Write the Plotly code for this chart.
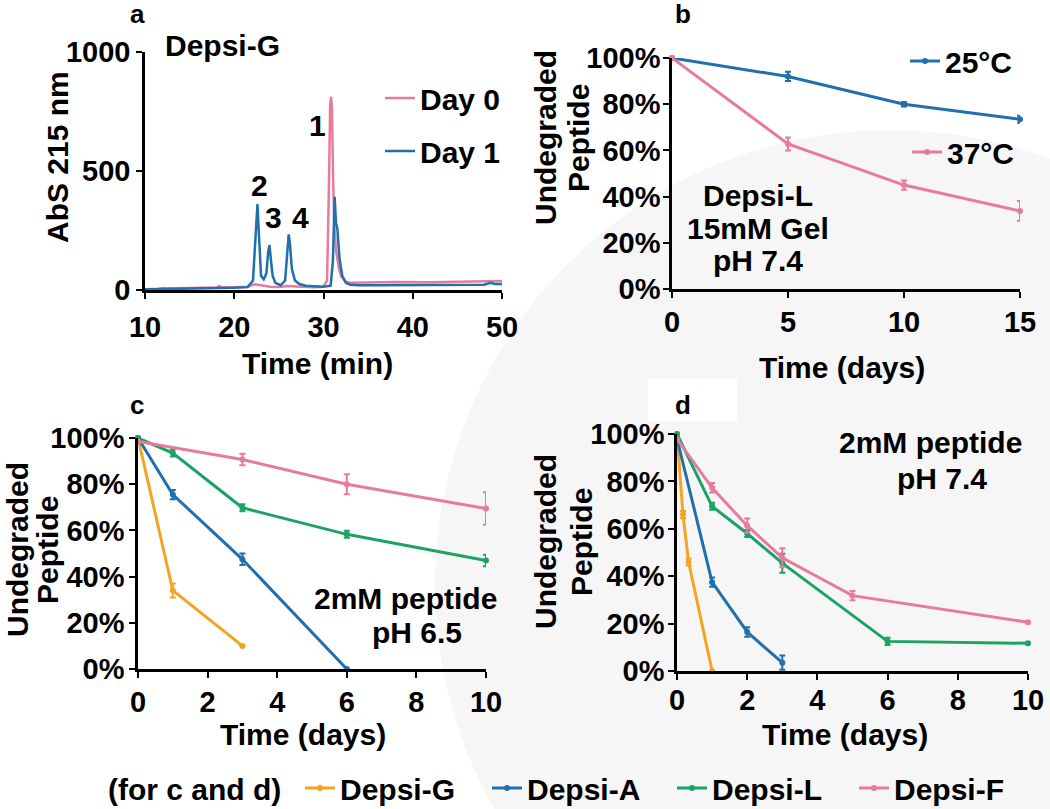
import plotly.graph_objects as go

W, H = 1050, 809

# ---------------- data ----------------
# panel a: HPLC traces of Depsi-G
day0_time = [10, 11.5, 12, 12.3, 15, 18, 18.3, 18.6, 20, 21.5, 22.3, 22.7, 23.2, 24, 25, 26, 27, 28, 29, 30,
             30.4, 30.6, 30.75, 30.85, 30.95, 31.05, 31.2, 31.4, 31.7, 32.0, 32.5, 33, 34, 35, 38, 40, 42, 45, 48, 50]
day0_abs = [3, 4, 8, 6, 8, 10, 16, 12, 12, 14, 24, 22, 18, 14, 13, 17, 15, 12, 12, 14,
            40, 420, 780, 812, 760, 520, 280, 170, 95, 55, 35, 30, 32, 32, 34, 33, 33, 35, 38, 38]
day1_time = [10, 12, 15, 18, 20, 21.5, 22.1, 22.35, 22.5, 22.6, 22.7, 22.85, 23.0, 23.3, 23.6, 23.8, 23.95,
             24.1, 24.3, 24.6, 25.2, 25.7, 25.95, 26.1, 26.25, 26.45, 26.8, 27.3, 28, 29, 30, 30.8, 31.05,
             31.25, 31.4, 31.55, 31.8, 32.1, 32.5, 33, 34, 36, 40, 44, 46, 48, 48.7, 49.2, 50]
day1_abs = [3, 4, 6, 8, 9, 12, 40, 200, 330, 361, 280, 150, 60, 45, 70, 160, 189,
            130, 60, 30, 20, 40, 170, 234, 190, 90, 40, 25, 18, 15, 14, 18, 120,
            392, 280, 260, 130, 60, 30, 22, 20, 20, 20, 20, 22, 22, 30, 25, 25]
peak_labels = ["1", "2", "3", "4"]
peak_x = [29.3, 22.8, 24.35, 27.4]
peak_y = [693, 441, 303, 303]
a_xticks = [10, 20, 30, 40, 50]
a_yticks = [0, 500, 1000]

# panel b: Depsi-L 15mM gel, pH 7.4
b_days = [0, 5, 10, 15]
b_25 = [100, 92, 80, 73.5]
b_25_err = [0, 2, 1, 1.5]
b_37 = [100, 62.8, 45, 33.8]
b_37_err = [0, 2.8, 2, 4.3]
b_xticks = [0, 5, 10, 15]

# panel c: 2mM peptide, pH 6.5
c_G_days = [0, 1, 3]
c_G = [100, 34, 10]
c_G_err = [0, 3, 0]
c_A_days = [0, 1, 3, 6]
c_A = [100, 75.5, 47.5, 0]
c_A_err = [0, 2, 2.5, 0]
c_L_days = [0, 1, 3, 6, 10]
c_L = [100, 93.5, 69.8, 58.3, 47]
c_L_err = [0, 1.5, 1.5, 1.5, 2.5]
c_F_days = [0, 3, 6, 10]
c_F = [98.5, 90.7, 80, 69.5]
c_F_err = [0, 2.5, 4.3, 7]

# panel d: 2mM peptide, pH 7.4
d_G_days = [0, 0.17, 0.33, 1]
d_G = [100, 66, 46, 0]
d_G_err = [0, 1.5, 1.5, 0]
d_A_days = [0, 1, 2, 3]
d_A = [98, 37.5, 16.5, 3.5]
d_A_err = [0, 2, 2, 3]
d_L_days = [0, 1, 2, 3, 6, 10]
d_L = [100, 69.5, 58, 45.5, 12.5, 11.7]
d_L_err = [0, 1.5, 1.5, 4, 1.5, 0.5]
d_F_days = [0, 1, 2, 3, 5, 10]
d_F = [97.8, 77.3, 61.3, 47.8, 31.8, 20.6]
d_F_err = [0, 2, 3, 4, 2, 0.5]
cd_xticks = [0, 2, 4, 6, 8, 10]

pct_vals = [0, 20, 40, 60, 80, 100]
pct_text = ["0%", "20%", "40%", "60%", "80%", "100%"]
series_names = ["Depsi-G", "Depsi-A", "Depsi-L", "Depsi-F"]

# ---------------- style ----------------
PINK = "#E77B9E"
BLUE = "#1F70AC"
GREEN = "#1CA363"
ORANGE = "#F4A325"
series_colors = [ORANGE, BLUE, GREEN, PINK]
FONT = "Liberation Sans, Arial, sans-serif"
TICK = dict(family=FONT, size=29, color="black", weight="bold")
TXT = dict(family=FONT, size=30, color="black", weight="bold")


def px(x):
    return x / W


def py(y):
    return 1 - y / H


fig = go.Figure()


def add_series(x, y, err, color, xa, ya, name, legend=None, show=False, width=3):
    fig.add_trace(go.Scatter(
        x=x, y=y, mode="lines+markers", name=name,
        line=dict(color=color, width=width),
        marker=dict(color=color, size=6),
        error_y=dict(type="data", array=err, visible=True, color=color, thickness=2, width=3),
        xaxis=xa, yaxis=ya, showlegend=show, legend=legend, cliponaxis=False,
    ))


# panel a traces
fig.add_trace(go.Scatter(x=day0_time, y=day0_abs, mode="lines", name="Day 0",
                         line=dict(color=PINK, width=2.5), xaxis="x", yaxis="y",
                         legend="legend", showlegend=True))
fig.add_trace(go.Scatter(x=day1_time, y=day1_abs, mode="lines", name="Day 1",
                         line=dict(color=BLUE, width=2.5), xaxis="x", yaxis="y",
                         legend="legend2", showlegend=True))

# panel b
add_series(b_days, b_25, b_25_err, BLUE, "x2", "y2", "25°C", "legend3", True)
add_series(b_days, b_37, b_37_err, PINK, "x2", "y2", "37°C", "legend4", True)

# panel c
c_sets = [(c_G_days, c_G, c_G_err), (c_A_days, c_A, c_A_err), (c_L_days, c_L, c_L_err), (c_F_days, c_F, c_F_err)]
for i, (xx, yy, ee) in enumerate(c_sets):
    add_series(xx, yy, ee, series_colors[i], "x3", "y3", series_names[i], "legend%d" % (5 + i), True)

# panel d
d_sets = [(d_G_days, d_G, d_G_err), (d_A_days, d_A, d_A_err), (d_L_days, d_L, d_L_err), (d_F_days, d_F, d_F_err)]
for i, (xx, yy, ee) in enumerate(d_sets):
    add_series(xx, yy, ee, series_colors[i], "x4", "y4", series_names[i])

AX = dict(showline=True, linecolor="black", linewidth=2.5, ticks="outside", ticklen=6, tickwidth=2,
          tickcolor="black", showgrid=False, zeroline=False, tickfont=TICK, fixedrange=True,
          automargin=False, tickmode="array")

layout = dict(
    width=W, height=H, margin=dict(l=0, r=0, t=0, b=0, pad=0, autoexpand=False),
    paper_bgcolor="white", plot_bgcolor="rgba(0,0,0,0)",
    xaxis=dict(AX, domain=[px(145), px(502)], range=[10, 50], tickvals=a_xticks,
               ticktext=[str(v) for v in a_xticks], anchor="y", ticklabelstandoff=3),
    yaxis=dict(AX, domain=[py(290), py(52)], range=[0, 1000], tickvals=a_yticks,
               ticktext=[str(v) for v in a_yticks], anchor="x", ticklabelstandoff=0),
    xaxis2=dict(AX, domain=[px(672), px(1020)], range=[0, 15], tickvals=b_xticks,
                ticktext=[str(v) for v in b_xticks], anchor="y2", ticklabelstandoff=-1),
    yaxis2=dict(AX, domain=[py(289), py(58)], range=[0, 100], tickvals=pct_vals, ticktext=pct_text,
                anchor="x2", ticklabelstandoff=-3),
    xaxis3=dict(AX, domain=[px(138), px(486)], range=[0, 10], tickvals=cd_xticks,
                ticktext=[str(v) for v in cd_xticks], anchor="y3", ticklabelstandoff=-1),
    yaxis3=dict(AX, domain=[py(669), py(438)], range=[0, 100], tickvals=pct_vals, ticktext=pct_text,
                anchor="x3", ticklabelstandoff=-1),
    xaxis4=dict(AX, domain=[px(677), px(1028)], range=[0, 10], tickvals=cd_xticks,
                ticktext=[str(v) for v in cd_xticks], anchor="y4", ticklabelstandoff=-5),
    yaxis4=dict(AX, domain=[py(671), py(434)], range=[0, 100], tickvals=pct_vals, ticktext=pct_text,
                anchor="x4", ticklabelstandoff=-2),
)


def leg(xpx, ypx):
    return dict(x=px(xpx), y=py(ypx), xref="paper", yref="paper", xanchor="left", yanchor="middle",
                font=TXT, bgcolor="rgba(0,0,0,0)", borderwidth=0, itemwidth=30, tracegroupgap=0)


layout["legend"] = leg(380, 98)
layout["legend2"] = leg(380, 151)
layout["legend3"] = leg(905, 61)
layout["legend4"] = leg(907, 152)
layout["legend5"] = leg(300, 788)
layout["legend6"] = leg(487, 788)
layout["legend7"] = leg(672, 788)
layout["legend8"] = leg(854, 788)

shapes = [
    dict(type="circle", xref="paper", yref="paper", layer="below",
         x0=px(890 - 455), x1=px(890 + 455), y0=py(585 + 455), y1=py(585 - 455),
         fillcolor="#F6F6F6", line=dict(width=0)),
    dict(type="rect", xref="paper", yref="paper", layer="below",
         x0=px(648), x1=px(737), y0=py(422), y1=py(378), fillcolor="white", line=dict(width=0)),
]
layout["shapes"] = shapes

ann = []


def note(text, x, y, size=30, angle=0, xanchor="center"):
    ann.append(dict(text=text, x=px(x), y=py(y), xref="paper", yref="paper", showarrow=False,
                    xanchor=xanchor, yanchor="middle", textangle=angle,
                    font=dict(family=FONT, size=size, color="black", weight="bold")))


# panel letters
note("a", 137, 14, 26)
note("b", 683, 14, 26)
note("c", 137, 405, 26)
note("d", 683, 405, 26)
# axis titles
note("Time (min)", 317, 364)
note("AbS 215 nm", 57, 157, angle=-90)
note("Time (days)", 842, 367)
note("Undegraded", 546, 138, angle=-90)
note("Peptide", 579, 138, angle=-90)
note("Time (days)", 303, 734)
note("Undegraded", 17, 550, angle=-90)
note("Peptide", 47, 550, angle=-90)
note("Time (days)", 845, 734)
note("Undegraded", 545, 542, angle=-90)
note("Peptide", 581, 542, angle=-90)
# inline texts
note("Depsi-G", 222, 46)
note("Depsi-L", 758, 195)
note("15mM Gel", 758, 228)
note("pH 7.4", 758, 260)
note("2mM peptide", 405, 598)
note("pH 6.5", 417, 632)
note("2mM peptide", 930, 443)
note("pH 7.4", 942, 478)
note("(for c and d)", 194, 789)

# peak labels on panel a (data coords)
for t, xx, yy in zip(peak_labels, peak_x, peak_y):
    ann.append(dict(text=t, x=xx, y=yy, xref="x", yref="y", showarrow=False,
                    xanchor="center", yanchor="middle", font=TXT))

layout["annotations"] = ann
fig.update_layout(**layout)
fig.write_html("out.html", config={"displayModeBar": False},
               post_script="document.body.style.margin='0px';document.body.style.overflow='hidden';")
